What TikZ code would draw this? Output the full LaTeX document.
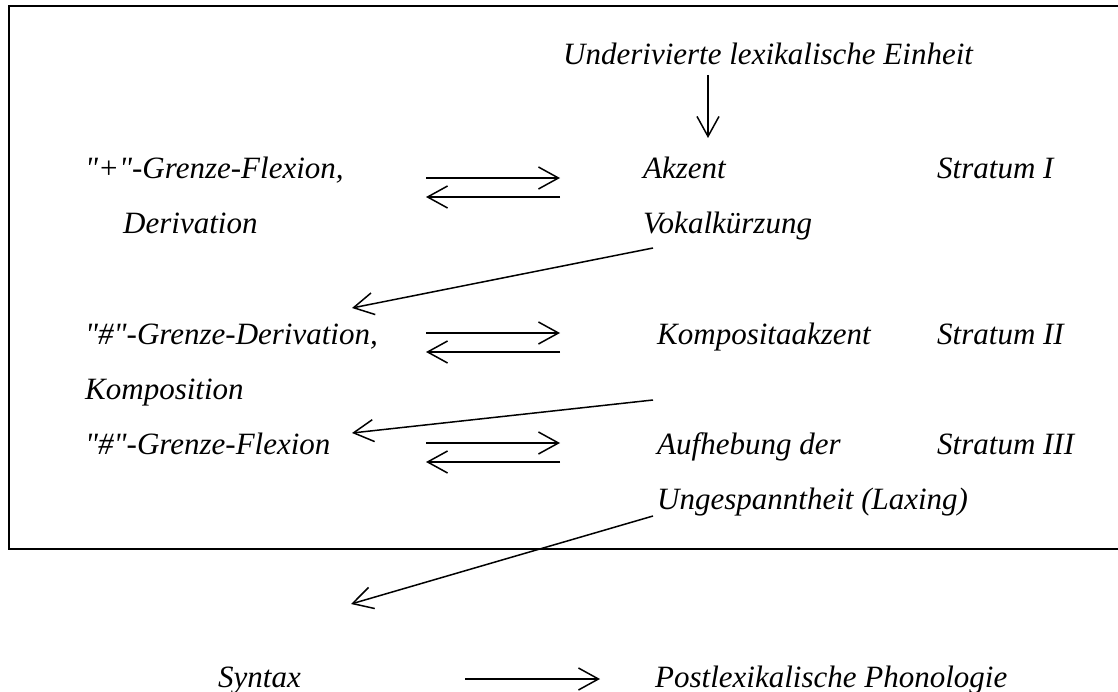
\documentclass[tikz,border=0pt]{standalone}
\usepackage{fontspec}
\setmainfont{Liberation Serif}
\usetikzlibrary{arrows.meta}
\tikzset{
  lbl/.style={anchor=base west, inner sep=0pt, font=\fontsize{31}{37}\selectfont\itshape},
  arr/.style={line width=1.5pt, -{Straight Barb[length=20pt,width=22pt,line width=1.5pt]}},
  frame/.style={line width=2.5pt}
}
\newcommand{\qd}{\textquotedbl}
\begin{document}
\begin{tikzpicture}[x=1pt,y=-1pt]
\useasboundingbox (0,0) rectangle (1118,692);
\draw[frame] (1118,6) -- (9,6) -- (9,549) -- (1118,549);
% texts
\node[lbl] (top) at (563,65) {Underivierte lexikalische Einheit};
\node[lbl] (l1a) at (85,179) {\qd+\qd-Grenze-Flexion,};
\node[lbl] (l1b) at (123,234) {Derivation};
\node[lbl] (r1a) at (643,179) {Akzent};
\node[lbl] (r1b) at (643,234) {Vokalkürzung};
\node[lbl] (s1) at (937,179) {Stratum I};
\node[lbl] (l2a) at (85,344) {\qd\#\qd-Grenze-Derivation,};
\node[lbl] (l2b) at (85,399) {Komposition};
\node[lbl] (r2a) at (657,344) {Kompositaakzent};
\node[lbl] (s2) at (937,344) {Stratum II};
\node[lbl] (l3a) at (85,454) {\qd\#\qd-Grenze-Flexion};
\node[lbl] (r3a) at (657,454) {Aufhebung der};
\node[lbl] (r3b) at (657,509) {Ungespanntheit (Laxing)};
\node[lbl] (s3) at (937,454) {Stratum III};
\node[lbl] (syn) at (218,687) {Syntax};
\node[lbl] (post) at (655,687) {Postlexikalische Phonologie};
% arrow end points
\coordinate (d0a) at (708,75);  \coordinate (d0b) at (708,138);
\coordinate (h1a) at (426,178); \coordinate (h1b) at (560,178);
\coordinate (h1c) at (560,197); \coordinate (h1d) at (426,197);
\coordinate (g1a) at (653,248); \coordinate (g1b) at (352,308);
\coordinate (h2a) at (426,333); \coordinate (h2b) at (560,333);
\coordinate (h2c) at (560,352); \coordinate (h2d) at (426,352);
\coordinate (g2a) at (653,400); \coordinate (g2b) at (352,433);
\coordinate (h3a) at (426,443); \coordinate (h3b) at (560,443);
\coordinate (h3c) at (560,462); \coordinate (h3d) at (426,462);
\coordinate (g3a) at (653,516); \coordinate (g3b) at (351,604);
\coordinate (h4a) at (465,679); \coordinate (h4b) at (600,679);
% arrows
\draw[arr] (d0a) -- (d0b);
\draw[arr] (h1a) -- (h1b);
\draw[arr] (h1c) -- (h1d);
\draw[arr] (g1a) -- (g1b);
\draw[arr] (h2a) -- (h2b);
\draw[arr] (h2c) -- (h2d);
\draw[arr] (g2a) -- (g2b);
\draw[arr] (h3a) -- (h3b);
\draw[arr] (h3c) -- (h3d);
\draw[arr] (g3a) -- (g3b);
\draw[arr] (h4a) -- (h4b);
\end{tikzpicture}
\end{document}
